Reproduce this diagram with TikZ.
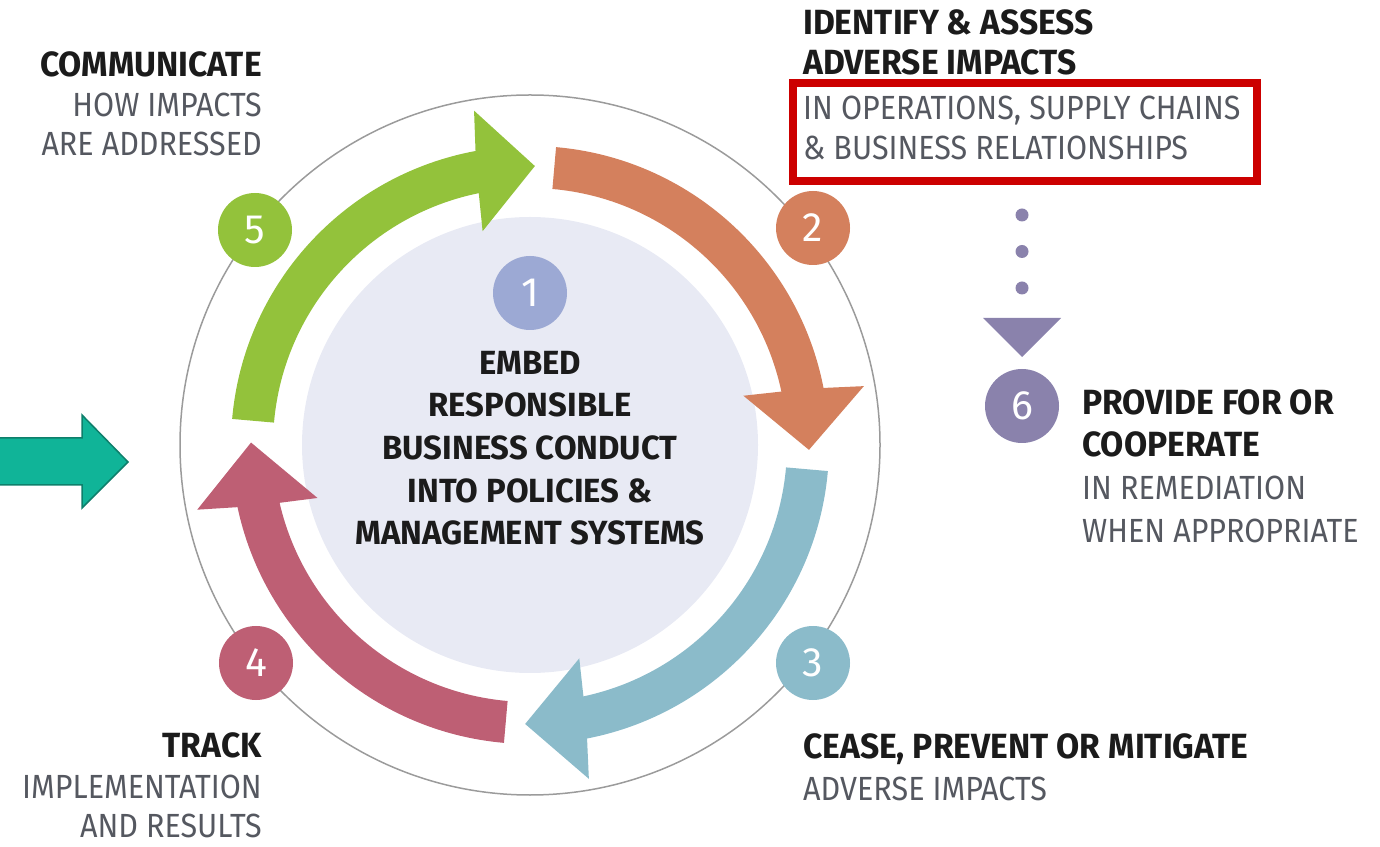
\documentclass[tikz,border=0pt]{standalone}
\usepackage{fontspec}
\setmainfont{Fira Sans}
\newfontfamily\headfont{Fira Sans}[FakeStretch=0.96]
\newfontfamily\midfont{Fira Sans}[FakeStretch=0.98]
\newfontfamily\thinfont{Fira Sans}[FakeStretch=0.91]
\newfontfamily\digitfont{Fira Sans}

\definecolor{cgreen}{HTML}{93C23B}
\definecolor{corange}{HTML}{D4805D}
\definecolor{cteal}{HTML}{8BBBCA}
\definecolor{crose}{HTML}{BE5F74}
\definecolor{cblue}{HTML}{9CA9D4}
\definecolor{cpurple}{HTML}{8A82AC}
\definecolor{chub}{HTML}{E8EAF4}
\definecolor{cring}{HTML}{9B9B9B}
\definecolor{cbox}{HTML}{CC0000}
\definecolor{cin}{HTML}{10B498}
\definecolor{cinline}{HTML}{0E7F6B}
\definecolor{ctitle}{HTML}{1B1B1B}
\definecolor{cnote}{HTML}{555860}

% curved cycle arrow: colour, tail angle, head base angle, tip angle
\newcommand{\cyclearrow}[4]{%
  \fill[#1] (#2:299) arc[start angle=#2, end angle={#3-0.5}, radius=299pt]
    -- ({#3-1.5}:339) -- (#4:279) -- ({#3+1.5}:219) -- ({#3+0.5}:257)
    arc[start angle={#3+0.5}, end angle=#2, radius=257pt] -- cycle;}

\tikzset{
  numdot/.style={circle, minimum size=74pt, inner sep=0pt, text=white,
    font=\digitfont\fontsize{41}{41}\selectfont},
  titletext/.style={inner sep=0pt, text=ctitle, font=\headfont\bfseries\fontsize{35}{35}\selectfont},
  notetext/.style={inner sep=0pt, text=cnote, font=\thinfont\fontsize{33.5}{33.5}\selectfont},
  hubtext/.style={inner sep=0pt, text=ctitle, anchor=base, font=\midfont\bfseries\fontsize{33.5}{33.5}\selectfont},
}

\begin{document}
\begin{tikzpicture}[x=1pt, y=1pt]
\useasboundingbox (0,0) rectangle (1380,846);

% ring, hub and the four cycle arrows
\begin{scope}[shift={(530,401)}]
  \draw[cring, line width=1.5pt] (0,0) circle[radius=350pt];
  \fill[chub] (0,0) circle[radius=228pt];
  \cyclearrow{cgreen}{175}{101}{89}
  \cyclearrow{corange}{85}{11.5}{-1}
  \cyclearrow{cteal}{-5}{-78.5}{-91}
  \cyclearrow{crose}{-95}{-167.5}{-180.5}
\end{scope}

% numbered steps
\node[numdot, fill=cblue]   (n1) at (530,553) {1};
\node[numdot, fill=corange] (n2) at (813,618) {2};
\node[numdot, fill=cteal]   (n3) at (813,183) {3};
\node[numdot, fill=crose]   (n4) at (256,183) {4};
\node[numdot, fill=cgreen]  (n5) at (255,616) {5};
\node[numdot, fill=cpurple] (n6) at (1022,440) {6};

% centre text
\node[hubtext] (h1) at (530,471) {EMBED};
\node[hubtext] (h2) at (530,429) {RESPONSIBLE};
\node[hubtext] (h3) at (530,386) {BUSINESS CONDUCT};
\node[hubtext] (h4) at (530,343) {INTO POLICIES \&};
\node[hubtext] (h5) at (530,301) {MANAGEMENT SYSTEMS};

% step 5
\node[titletext, anchor=base east] (c1) at (262,769) {COMMUNICATE};
\node[notetext, anchor=base east]  (c2) at (262,729) {HOW IMPACTS};
\node[notetext, anchor=base east]  (c3) at (262,690) {ARE ADDRESSED};

% step 2
\node[titletext, anchor=base west] (i1) at (803,811) {IDENTIFY \& ASSESS};
\node[titletext, anchor=base west] (i2) at (803,771) {ADVERSE IMPACTS};
\node[notetext, anchor=base west]  (i3) at (803,726) {IN OPERATIONS, SUPPLY CHAINS};
\node[notetext, anchor=base west]  (i4) at (803,686) {\& BUSINESS RELATIONSHIPS};
\draw[cbox, line width=8pt] (793,665) rectangle (1257,763);

% step 6
\node[titletext, anchor=base west] (p1) at (1082,431) {PROVIDE FOR OR};
\node[titletext, anchor=base west] (p2) at (1082,389) {COOPERATE};
\node[notetext, anchor=base west]  (p3) at (1082,346) {IN REMEDIATION};
\node[notetext, anchor=base west]  (p4) at (1082,303) {WHEN APPROPRIATE};

% step 3
\node[titletext, anchor=base west] (s1) at (803,88) {CEASE, PREVENT OR MITIGATE};
\node[notetext, anchor=base west]  (s2) at (803,46) {ADVERSE IMPACTS};

% step 4
\node[titletext, anchor=base east] (t1) at (262,89) {TRACK};
\node[notetext, anchor=base east]  (t2) at (262,48) {IMPLEMENTATION};
\node[notetext, anchor=base east]  (t3) at (262,9) {AND RESULTS};

% dotted link from step 2 down to step 6
\coordinate (dtop) at (1022,631);
\coordinate (dend) at (1022,522);
\draw[cpurple, line width=13pt, line cap=round, dash pattern=on 0pt off 36.5pt] (dtop) -- (dend);
\coordinate (tl) at (983,528);
\coordinate (tr) at (1061,528);
\coordinate (tt) at (1022,489);
\fill[cpurple] (tl) -- (tr) -- (tt) -- cycle;

% entry arrow on the left
\filldraw[fill=cin, draw=cinline, line width=1.5pt]
  (-2,408) -- (82,408) -- (82,431) -- (128,384) -- (82,338) -- (82,361) -- (-2,361) -- cycle;
\end{tikzpicture}
\end{document}
